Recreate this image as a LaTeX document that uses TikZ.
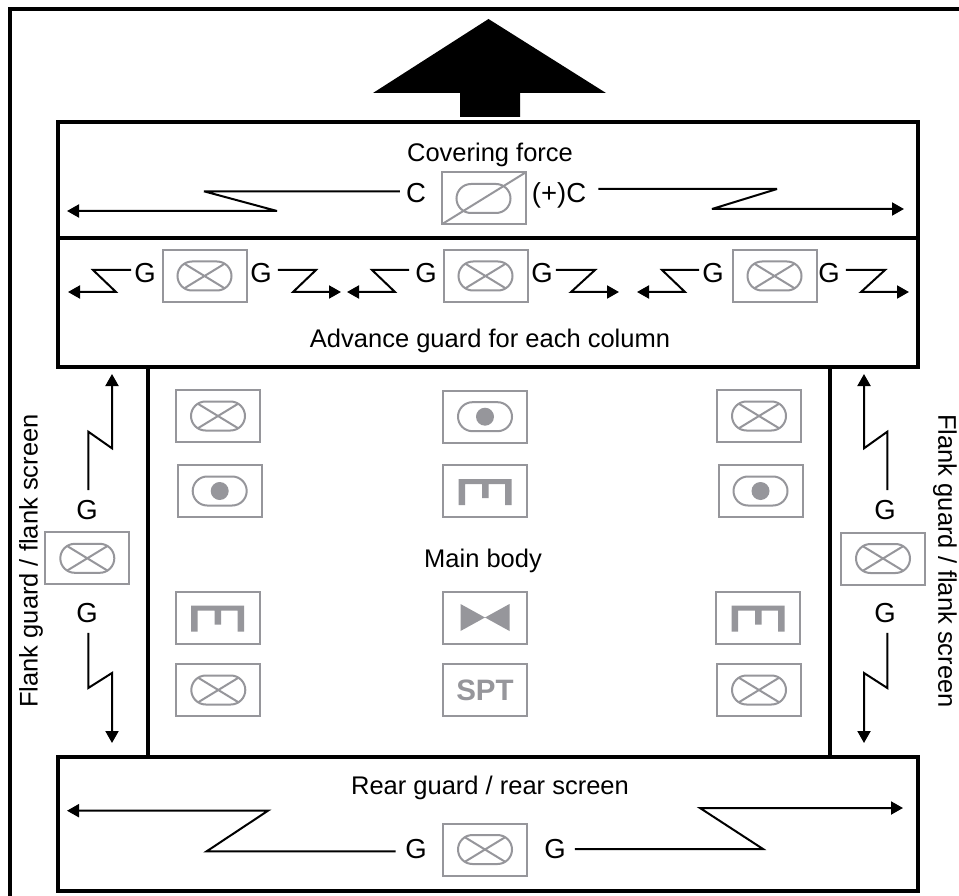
\documentclass[tikz,border=0pt]{standalone}
\usepackage{fontspec}
\setmainfont{Liberation Sans}
\usetikzlibrary{arrows.meta, positioning}
\definecolor{unitgray}{RGB}{150, 150, 155}
\newcommand{\unitpill}{\draw[unitgray, line width=2pt, rounded corners=14.5pt, shift={(path picture bounding box.center)}] (-27,-14.5) rectangle (27,14.5);}

\begin{document}
\begin{tikzpicture}[x=1pt, y=-1pt,
    panel/.style={rectangle, draw, line width=4pt, inner sep=0pt},
    lbl/.style={inner sep=0pt, font=\fontsize{25.5}{30}\selectfont},
    tag/.style={inner sep=0pt, font=\fontsize{27.5}{30}\selectfont},
    zig/.style={line width=2pt, miter limit=6, -{Triangle[length=12pt,width=13pt]}},
    unit/.style={rectangle, draw=unitgray, fill=white, line width=2pt, minimum width=84pt, minimum height=52pt, inner sep=0pt},
    infantry/.style={unit, path picture={\unitpill
        \draw[unitgray, line width=2pt, shift={(path picture bounding box.center)}] (-20.5,-12.5) -- (20.5,12.5) (-20.5,12.5) -- (20.5,-12.5);}},
    armour/.style={unit, path picture={\unitpill
        \draw[unitgray, line width=2pt] (path picture bounding box.south west) -- (path picture bounding box.north east);}},
    recce/.style={unit, path picture={\unitpill
        \fill[unitgray, shift={(path picture bounding box.center)}] (0,0) circle (9);}},
    engineer/.style={unit, path picture={
        \fill[unitgray, shift={(path picture bounding box.center)}] (-26.5,14) -- (-26.5,-12) -- (26.5,-12) -- (26.5,14) -- (20,14) -- (20,-7) -- (3.5,-7) -- (3.5,7) -- (-3,7) -- (-3,-7) -- (-20,-7) -- (-20,14) -- cycle;}},
    antitank/.style={unit, path picture={
        \fill[unitgray, shift={(path picture bounding box.center)}] (-24.5,-13.5) -- (0,0) -- (-24.5,13.5) -- cycle (24.5,-13.5) -- (0,0) -- (24.5,13.5) -- cycle;}}]
    \useasboundingbox (0,0) rectangle (959,896);

    % Outer frame
    \draw[line width=4pt] (10,896) -- (10,9) -- (959,9);

    % Direction of advance
    \fill (488.5,19) -- (606,93) -- (520,93) -- (520,117) -- (460,117) -- (460,93) -- (373,93) -- cycle;

    % Panels
    \node[panel, minimum width=682.5pt, minimum height=390pt] (body) at (488.75,562) {};
    \node[panel, minimum width=860pt, minimum height=116pt] (cover) at (488,180) {};
    \node[panel, minimum width=860pt, minimum height=129pt] (guard) at (488,302.5) {};
    \node[panel, minimum width=860pt, minimum height=134pt] (rear) at (488,824) {};

    % Panel titles
    \node[lbl] (covertitle) at (490,154.5) {Covering force};
    \node[lbl] (guardtitle) at (490,340.5) {Advance guard for each column};
    \node[lbl] (bodytitle) at (483,560.5) {Main body};
    \node[lbl] (reartitle) at (490,787.5) {Rear guard / rear screen};
    \node[lbl, rotate=90] (lefttitle) at (31,561) {Flank guard / flank screen};
    \node[lbl, rotate=-90] (righttitle) at (945,561) {Flank guard / flank screen};

    % Covering force
    \node[armour] (coverunit) at (483.5,198.5) {};
    \node[tag] (coverc) at (416,193) {C};
    \node[tag] (coverpc) at (559,195.5) {(+)C};
    \coordinate (covertipl) at (67,211);
    \coordinate (covertipr) at (904,209);
    \draw[zig] ([xshift=-6pt,yshift=1.7pt]coverc.west) -- (204,191.3) -- (277,211) -- (covertipl);
    \draw[zig] ([xshift=12pt,yshift=6.5pt]coverpc.east) -- (777,189) -- (712,209) -- (covertipr);

    % Advance guard
    \node[infantry] (guardone) at (204.5,276) {};
    \node[infantry] (guardtwo) at (485.5,276) {};
    \node[infantry] (guardthree) at (774.5,276) {};
    \node[tag] (gonel) at (145,273) {G};
    \node[tag] (goner) at (261,273) {G};
    \node[tag] (gtwol) at (426,273) {G};
    \node[tag] (gtwor) at (542,273) {G};
    \node[tag] (gthreel) at (713,273) {G};
    \node[tag] (gthreer) at (829,273) {G};
    \coordinate (tiponel) at (68,292);
    \coordinate (tiponer) at (341,292);
    \coordinate (tiptwol) at (347,292);
    \coordinate (tiptwor) at (619,292);
    \coordinate (tipthreel) at (637,292);
    \coordinate (tipthreer) at (909,292);
    \draw[zig] ([xshift=-3pt,yshift=3pt]gonel.west) -- (93,270) -- (116,292) -- (tiponel);
    \draw[zig] ([xshift=6pt,yshift=3pt]goner.east) -- (316,270) -- (293,292) -- (tiponer);
    \draw[zig] ([xshift=-6pt,yshift=3pt]gtwol.west) -- (372,270) -- (395,292) -- (tiptwol);
    \draw[zig] ([xshift=3pt,yshift=3pt]gtwor.east) -- (595,270) -- (571,292) -- (tiptwor);
    \draw[zig] ([xshift=-3pt,yshift=3pt]gthreel.west) -- (662,270) -- (685,292) -- (tipthreel);
    \draw[zig] ([xshift=6pt,yshift=3pt]gthreer.east) -- (885,270) -- (861,292) -- (tipthreer);

    % Main body
    \node[infantry] (bodya) at (218,416) {};
    \node[recce] (bodyb) at (219.7,491) {};
    \node[engineer] (bodyc) at (217.5,617.5) {};
    \node[infantry] (bodyd) at (218.3,690) {};
    \node[recce] (bodye) at (485,416.7) {};
    \node[engineer] (bodyf) at (485,491) {};
    \node[antitank] (bodyg) at (485,617.5) {};
    \node[unit, text=unitgray, font=\bfseries\fontsize{29.5}{30}\selectfont] (bodyh) at (485,690) {SPT};
    \node[infantry] (bodyi) at (759,416) {};
    \node[recce] (bodyj) at (760.5,491) {};
    \node[engineer] (bodyk) at (758,617.5) {};
    \node[infantry] (bodyl) at (759,690) {};

    % Left flank
    \node[infantry] (leftunit) at (87.3,558.3) {};
    \node[tag] (leftg) at (87,510) {G};
    \node[tag] (leftgb) at (87,613) {G};
    \coordinate (lefttip) at (112,374);
    \coordinate (lefttipb) at (112,743);
    \draw[zig] ([xshift=1.3pt,yshift=10pt]leftg.north) -- (88.3,431.7) -- (112,448.3) -- (lefttip);
    \draw[zig] ([xshift=1.3pt,yshift=-10pt]leftgb.south) -- (88.3,688) -- (112,673) -- (lefttipb);

    % Right flank
    \node[infantry] (rightunit) at (883,558.5) {};
    \node[tag] (rightg) at (885,510) {G};
    \node[tag] (rightgb) at (885,613) {G};
    \coordinate (righttip) at (864,374);
    \coordinate (righttipb) at (864,743);
    \draw[zig] ([xshift=2.3pt,yshift=10pt]rightg.north) -- (887.3,431.7) -- (864,448.3) -- (righttip);
    \draw[zig] ([xshift=2.3pt,yshift=-10pt]rightgb.south) -- (887.3,688) -- (864,673) -- (righttipb);

    % Rear guard
    \node[infantry] (rearunit) at (485,849.5) {};
    \node[tag] (rearl) at (416,849) {G};
    \node[tag] (rearr) at (555,849) {G};
    \coordinate (reartipl) at (67,810.7);
    \coordinate (reartipr) at (903,808);
    \draw[zig] ([xshift=-9.4pt,yshift=-2.3pt]rearl.west) -- (206.7,851.3) -- (268,810.7) -- (reartipl);
    \draw[zig] ([xshift=9pt]rearr.east) -- (763,849) -- (700,808) -- (reartipr);
\end{tikzpicture}
\end{document}
